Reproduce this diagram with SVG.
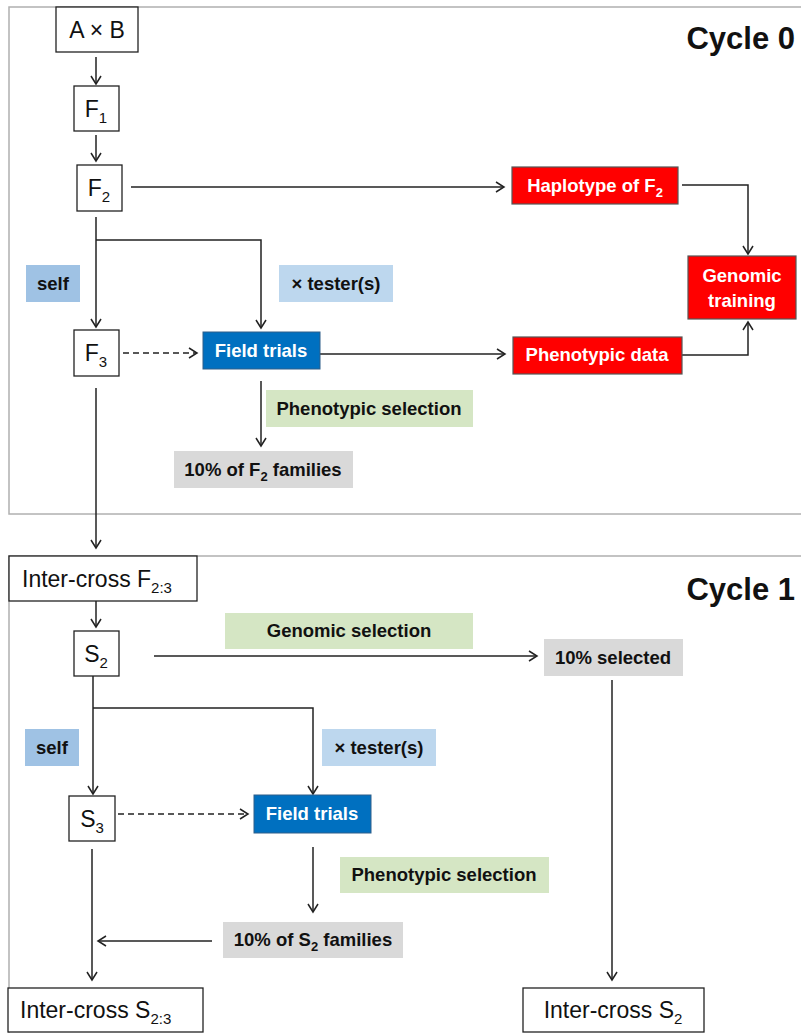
<svg xmlns="http://www.w3.org/2000/svg" width="801" height="1033" viewBox="0 0 801 1033">
<defs>
<marker id="ah" markerUnits="userSpaceOnUse" markerWidth="12" markerHeight="12" refX="9" refY="6" orient="auto">
<path d="M1,1 L9,6 L1,11" fill="none" stroke="#222" stroke-width="1.5"/>
</marker>
<style>
.frame{fill:none;stroke:#b0b0b0;stroke-width:1.5}
.nb{fill:#fff;stroke:#222;stroke-width:1.3}
.red{fill:#ff0000;stroke:#555;stroke-width:1.2}
.blue{fill:#0070c0;stroke:#2e5f8a;stroke-width:1}
.selfb{fill:#9fc2e4}
.test{fill:#bdd7ee}
.green{fill:#d5e6c4}
.gray{fill:#d9d9d9}
.nt{font-family:"Liberation Sans",Arial,sans-serif;font-size:23px;fill:#111}
.bt{font-family:"Liberation Sans",Arial,sans-serif;font-size:18.5px;font-weight:bold;fill:#111}
.wt{font-family:"Liberation Sans",Arial,sans-serif;font-size:18.5px;font-weight:bold;fill:#fff}
.cyc{font-family:"Liberation Sans",Arial,sans-serif;font-size:31px;font-weight:bold;fill:#111}
.c{stroke:#222;stroke-width:1.5;fill:none;marker-end:url(#ah)}
.d{stroke-dasharray:6,4}
</style>
</defs>
<rect x="0" y="0" width="801" height="1033" fill="#fff"/>
<g id="frames">
<rect class="frame" x="9" y="7" width="830" height="507"/>
<rect class="frame" x="9" y="556" width="830" height="510"/>
<text class="cyc" x="795" y="49" text-anchor="end">Cycle 0</text>
<text class="cyc" x="795" y="600" text-anchor="end">Cycle 1</text>
</g>
<g id="connectors">
<path class="c" d="M96,57 V84"/>
<path class="c" d="M96,135 V161"/>
<path class="c" d="M131,187 H504"/>
<path class="c" d="M682,185 H748 V254"/>
<path class="c" d="M96,217 V327"/>
<path class="c" d="M96,240 H261 V328"/>
<path class="c d" d="M123,353 H197"/>
<path class="c" d="M320,354 H505"/>
<path class="c" d="M682,355 H748 V322"/>
<path class="c" d="M261,381 V446"/>
<path class="c" d="M96,388 V548"/>
<path class="c" d="M96,601 V627"/>
<path class="c" d="M154,656 H537"/>
<path class="c" d="M93,676 V794"/>
<path class="c" d="M93,708 H313 V794"/>
<path class="c d" d="M118,814 H248"/>
<path class="c" d="M313,847 V912"/>
<path class="c" d="M212,941 H98"/>
<path class="c" d="M92,849 V980"/>
<path class="c" d="M612,680 V980"/>
</g>
<g id="AxB"><rect class="nb" x="56" y="7" width="82" height="45"/><text class="nt" x="97" y="38" text-anchor="middle">A × B</text></g>
<g id="F1"><rect class="nb" x="74" y="86" width="45" height="45"/><text class="nt" x="96" y="117" text-anchor="middle">F<tspan font-size="15" dy="6">1</tspan></text></g>
<g id="F2"><rect class="nb" x="77" y="165" width="45" height="46"/><text class="nt" x="99" y="196" text-anchor="middle">F<tspan font-size="15" dy="6">2</tspan></text></g>
<g id="F3"><rect class="nb" x="74" y="330" width="45" height="46"/><text class="nt" x="96" y="361" text-anchor="middle">F<tspan font-size="15" dy="6">3</tspan></text></g>
<g id="haplotype"><rect class="red" x="512" y="167" width="166" height="37"/><text class="wt" x="595" y="192" text-anchor="middle">Haplotype of F<tspan font-size="13" dy="5">2</tspan></text></g>
<g id="genomic-training"><rect class="red" x="688" y="256" width="108" height="63"/><text class="wt" x="742" y="282" text-anchor="middle">Genomic</text><text class="wt" x="742" y="307" text-anchor="middle">training</text></g>
<g id="self0"><rect class="selfb" x="26" y="265" width="54" height="37"/><text class="bt" x="53" y="290" text-anchor="middle">self</text></g>
<g id="tester0"><rect class="test" x="279" y="265" width="114" height="37"/><text class="bt" x="336" y="290" text-anchor="middle">× tester(s)</text></g>
<g id="field0"><rect class="blue" x="203" y="332" width="117" height="37"/><text class="wt" x="261" y="357" text-anchor="middle">Field trials</text></g>
<g id="phenodata"><rect class="red" x="513" y="337" width="169" height="37"/><text class="wt" x="597" y="361" text-anchor="middle">Phenotypic data</text></g>
<g id="phensel0"><rect class="green" x="266" y="390" width="207" height="37"/><text class="bt" x="369" y="415" text-anchor="middle">Phenotypic selection</text></g>
<g id="f2fam"><rect class="gray" x="174" y="451" width="179" height="37"/><text class="bt" x="263" y="476" text-anchor="middle">10% of F<tspan font-size="13" dy="5">2</tspan><tspan dy="-5"> families</tspan></text></g>
<g id="intercrossF23"><rect class="nb" x="9" y="556" width="188" height="45"/><text class="nt" x="22" y="587">Inter-cross F<tspan font-size="15" dy="6">2:3</tspan></text></g>
<g id="S2"><rect class="nb" x="74" y="631" width="45" height="45"/><text class="nt" x="96" y="662" text-anchor="middle">S<tspan font-size="15" dy="6">2</tspan></text></g>
<g id="gensel"><rect class="green" x="225" y="613" width="248" height="36"/><text class="bt" x="349" y="637" text-anchor="middle">Genomic selection</text></g>
<g id="sel10"><rect class="gray" x="544" y="639" width="139" height="37"/><text class="bt" x="613" y="664" text-anchor="middle">10% selected</text></g>
<g id="self1"><rect class="selfb" x="25" y="729" width="54" height="37"/><text class="bt" x="52" y="754" text-anchor="middle">self</text></g>
<g id="tester1"><rect class="test" x="322" y="729" width="114" height="37"/><text class="bt" x="379" y="754" text-anchor="middle">× tester(s)</text></g>
<g id="S3"><rect class="nb" x="69" y="796" width="46" height="45"/><text class="nt" x="92" y="827" text-anchor="middle">S<tspan font-size="15" dy="6">3</tspan></text></g>
<g id="field1"><rect class="blue" x="254" y="795" width="117" height="38"/><text class="wt" x="312" y="820" text-anchor="middle">Field trials</text></g>
<g id="phensel1"><rect class="green" x="340" y="857" width="209" height="36"/><text class="bt" x="444" y="881" text-anchor="middle">Phenotypic selection</text></g>
<g id="s2fam"><rect class="gray" x="223" y="922" width="180" height="36"/><text class="bt" x="313" y="946" text-anchor="middle">10% of S<tspan font-size="13" dy="5">2</tspan><tspan dy="-5"> families</tspan></text></g>
<g id="intercrossS23"><rect class="nb" x="8" y="988" width="195" height="44"/><text class="nt" x="20" y="1018">Inter-cross S<tspan font-size="15" dy="6">2:3</tspan></text></g>
<g id="intercrossS2"><rect class="nb" x="523" y="988" width="181" height="44"/><text class="nt" x="613" y="1018" text-anchor="middle">Inter-cross S<tspan font-size="15" dy="6">2</tspan></text></g>
</svg>
